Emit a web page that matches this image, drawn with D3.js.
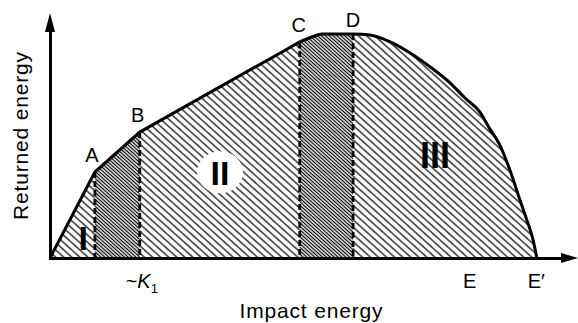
<!DOCTYPE html>
<html>
<head>
<meta charset="utf-8">
<script src="https://cdnjs.cloudflare.com/ajax/libs/d3/7.8.5/d3.min.js"></script>
<style>
body{margin:0;background:#fff;}
text{font-family:"Liberation Sans",Arial,Helvetica,sans-serif;fill:#000;}
</style>
</head>
<body>
<script>
// impact energy (x) vs returned energy (y), arbitrary units 0-100
// straight part O-A-B-C
var curveStraight=[{x:0,y:0},{x:8.5,y:35.1},{x:17.0,y:51.4},{x:43.6,y:83.7},{x:47.3,y:88.2}];
// rounded part C-D-E'
var curveRound=[{x:47.3,y:88.2},{x:49.6,y:90.2},{x:51.5,y:91.4},{x:57.4,y:91.4},{x:60.6,y:91.0},
  {x:64.4,y:88.2},{x:68.2,y:83.7},{x:72.0,y:78.0},{x:75.8,y:71.4},{x:78.6,y:65.3},{x:81.4,y:59.6},
  {x:83.3,y:52.7},{x:85.2,y:46.1},{x:87.1,y:35.9},{x:89.0,y:23.7},{x:90.3,y:15.5},{x:91.5,y:7.3},{x:92.2,y:0}];
var pointNames=["A","B","C","D"];
var pointX=[8.5,17.0,47.3,57.4];
var pointY=[35.1,51.4,88.2,91.4];
var regionNames=["I","II","III"];
var tickLabels=["~K1","E","E\u2032"];
var tickX=[17.0,79.5,92.2];

var svg=d3.select('body').append('svg')
    .attr('width',578)
    .attr('height',323);

var x=d3.scaleLinear().domain([0,100]).range([50,578]);
var y=d3.scaleLinear().domain([0,100]).range([258,13]);

// 1., hatch patterns
var defs=svg.append('defs');
function hatch(id,gap,w){
  var p=defs.append('pattern').attr('id',id)
    .attr('patternUnits','userSpaceOnUse')
    .attr('width',20).attr('height',gap)
    .attr('patternTransform','rotate(42)');
  p.append('line').attr('x1',0).attr('x2',20)
    .attr('y1',gap/2).attr('y2',gap/2)
    .attr('stroke','#000').attr('stroke-width',w);
}
hatch('light',5.4,1.2);
hatch('dense',2.6,1.25);

// 2., curve path
var lineStraight=d3.line().x(function(d){return x(d.x)}).y(function(d){return y(d.y)});
var lineRound=d3.line().x(function(d){return x(d.x)}).y(function(d){return y(d.y)})
    .curve(d3.curveMonotoneX);
var curvePath=lineStraight(curveStraight)+lineRound(curveRound).replace(/^M/,'L');

defs.append('clipPath').attr('id','under')
    .append('path').attr('d',curvePath+'Z');

// 3., hatched bands between the dashed lines
var bounds=[0].concat(pointX).concat([curveRound[curveRound.length-1].x]);
var bands=svg.append('g').attr('clip-path','url(#under)');
for(var i=0;i<bounds.length-1;i++){
  bands.append('rect')
    .attr('x',x(bounds[i])).attr('width',x(bounds[i+1])-x(bounds[i]))
    .attr('y',y(100)).attr('height',y(0)-y(100))
    .attr('fill',i%2==1?'url(#dense)':'url(#light)');
}

// white patch behind II
svg.append('ellipse').attr('cx',x(32.2)).attr('cy',y(35)).attr('rx',23).attr('ry',21).attr('fill','#fff');

// 4., dashed verticals
pointX.forEach(function(px,i){
  svg.append('line')
    .attr('x1',x(px)).attr('x2',x(px))
    .attr('y1',y(pointY[i])).attr('y2',y(0))
    .attr('stroke','#000').attr('stroke-width',2.8)
    .attr('stroke-dasharray','6,3');
});

svg.append('path').attr('d',curvePath)
    .attr('fill','none')
    .attr('stroke','#000')
    .attr('stroke-width',3);

// 5., axes with arrows
var arrowLen=17,arrowHalf=5;
var xAxisScale=d3.scaleLinear().domain([0,1]).range([x(0)-1.5,x(100)-arrowLen+2]);
var yAxisScale=d3.scaleLinear().domain([0,1]).range([y(0)+1.5,y(100)+arrowLen-2]);
svg.append('g').attr('transform','translate(0,'+y(0)+')')
    .call(d3.axisBottom(xAxisScale).tickValues([]).tickSizeOuter(0))
    .select('.domain').attr('stroke','#000').attr('stroke-width',3);
svg.append('g').attr('transform','translate('+x(0)+',0)')
    .call(d3.axisLeft(yAxisScale).tickValues([]).tickSizeOuter(0))
    .select('.domain').attr('stroke','#000').attr('stroke-width',3);
svg.append('path')
    .attr('d','M'+x(100)+','+y(0)+'L'+(x(100)-arrowLen)+','+(y(0)-arrowHalf)+'L'+(x(100)-arrowLen)+','+(y(0)+arrowHalf)+'Z')
    .attr('fill','#000');
svg.append('path')
    .attr('d','M'+x(0)+','+y(100)+'L'+(x(0)-arrowHalf)+','+(y(100)+arrowLen+2)+'L'+(x(0)+arrowHalf)+','+(y(100)+arrowLen+2)+'Z')
    .attr('fill','#000');

// 6., labels
var pointDx=[-3,-2,-1,0],pointDy=[-10,-10,-10,-7];
pointNames.forEach(function(n,i){
  svg.append('text').attr('x',x(pointX[i])+pointDx[i]).attr('y',y(pointY[i])+pointDy[i])
    .attr('text-anchor','middle').attr('font-size',20).text(n);
});

tickLabels.forEach(function(t,i){
  var tx=svg.append('text').attr('x',x(tickX[i])+(i==0?2:(i==2?-0.5:0))).attr('y',288)
    .attr('text-anchor','middle').attr('font-size',20);
  if(t.indexOf('K')>=0){
    tx.append('tspan').text('~');
    tx.append('tspan').attr('font-style','italic').text('K');
    tx.append('tspan').attr('font-size',13).attr('dy',5).text('1');
  } else tx.text(t);
});

var regionX=[6.3,32.2,72.9],regionY=[3.3,29.8,36.6],regionSize=[34,34,36];
regionNames.forEach(function(n,i){
  svg.append('text').attr('x',x(regionX[i])).attr('y',y(regionY[i]))
    .attr('text-anchor','middle').attr('font-size',regionSize[i])
    .attr('font-weight','bold').text(n);
});

svg.append('text').attr('x',311).attr('y',318)
    .attr('text-anchor','middle').attr('font-size',21)
    .attr('textLength',143).attr('lengthAdjust','spacing')
    .text('Impact energy');
svg.append('text').attr('transform','translate(28,136) rotate(-90)')
    .attr('text-anchor','middle').attr('font-size',21)
    .attr('textLength',168).attr('lengthAdjust','spacing')
    .text('Returned energy');
</script>
</body>
</html>
